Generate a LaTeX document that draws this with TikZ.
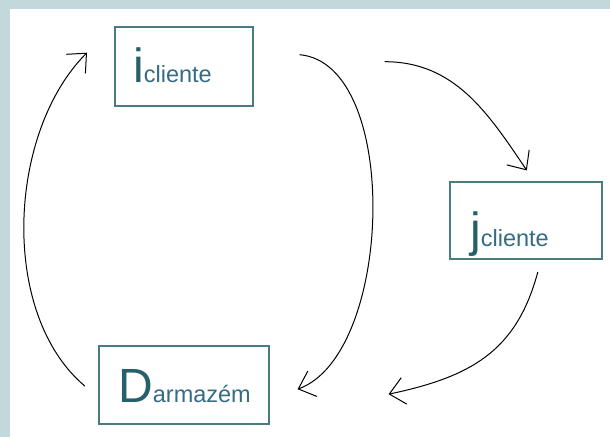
\documentclass[tikz,border=0pt]{standalone}
\usepackage{fontspec}
\setmainfont{Liberation Sans}
\usepackage{tikz}
\usetikzlibrary{arrows.meta,positioning,calc}
\usepackage{xcolor}
\definecolor{fundo}{RGB}{194,216,218}
\definecolor{bordateal}{RGB}{72,124,126}
\definecolor{letrateal}{RGB}{38,96,106}
\definecolor{subteal}{RGB}{52,108,132}

\begin{document}
\begin{tikzpicture}[x=1pt,y=1pt,
    caixa/.style={draw=bordateal,line width=1.6pt,inner sep=0pt,anchor=south west},
    rotulo/.style={inner sep=0pt,anchor=base west},
    seta/.style={draw=black,line width=1pt,-{Straight Barb[length=15pt,width=27pt]}}]
        % Background and page
        \useasboundingbox (0,0) rectangle (610,437);
        \fill[fundo] (0,0) rectangle (610,437);
        \fill[white] (10,0) rectangle (610,428);

        % Boxes
        \node[caixa,minimum width=138pt,minimum height=79pt] (i) at (114,330) {};
        \node[caixa,minimum width=152pt,minimum height=77pt] (j) at (449,177) {};
        \node[caixa,minimum width=170pt,minimum height=78pt] (D) at (98,12) {};

        % Labels
        \node[rotulo] (itxt) at ([shift={(19,24)}]i.south west) {%
            \textcolor{letrateal}{\fontsize{48}{48}\selectfont i}\textcolor{subteal}{\fontsize{23.5}{23.5}\selectfont cliente}};
        \node[rotulo] (jtxt) at ([shift={(21,14)}]j.south west) {%
            \textcolor{letrateal}{\fontsize{48}{48}\selectfont j}\textcolor{subteal}{\fontsize{23.5}{23.5}\selectfont cliente}};
        \node[rotulo] (Dtxt) at ([shift={(20,23)}]D.south west) {%
            \textcolor{letrateal}{\fontsize{48}{48}\selectfont D}\textcolor{subteal}{\fontsize{23.5}{23.5}\selectfont armazém}};

        % Arrows
        \draw[seta] ([shift={(-13,-1)}]D.west) to[out=140,in=225,looseness=0.86] ([shift={(-27,14)}]i.west);
        \draw[seta] ([shift={(46,12)}]i.east) to[out=-5,in=20,looseness=0.78] ([shift={(28,-4)}]D.east);
        \draw[seta] ([shift={(131,5)}]i.east) to[out=0,in=124] ([shift={(1,11)}]j.north);
        \draw[seta] ([shift={(12,-12)}]j.south) to[out=-105,in=12,looseness=1.1] ([shift={(119,-9)}]D.east);
\end{tikzpicture}
\end{document}
